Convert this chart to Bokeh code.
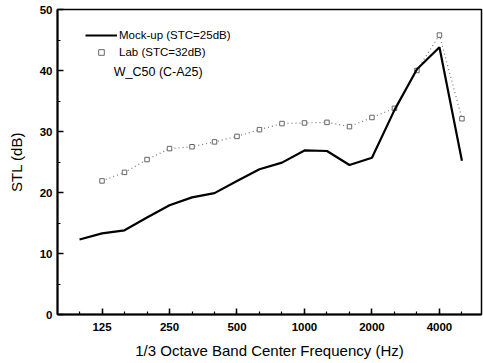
from bokeh.plotting import figure
from bokeh.models import Range1d, FixedTicker, Legend, LegendItem, Label
from bokeh.embed import file_html
from bokeh.resources import INLINE

# 1/3 octave band centre frequencies (Hz)
bands = [100, 125, 160, 200, 250, 315, 400, 500, 630, 800, 1000, 1250,
         1600, 2000, 2500, 3150, 4000, 5000]
tick_labels = ["125", "250", "500", "1000", "2000", "4000"]
mockup = [12.3, 13.3, 13.8, 15.9, 17.9, 19.2, 19.9, 21.9, 23.8, 24.9, 26.9,
          26.8, 24.5, 25.7, 33.5, 40.2, 43.8, 25.2]
lab_bands = [125, 160, 200, 250, 315, 400, 500, 630, 800, 1000, 1250,
             1600, 2000, 2500, 3150, 4000, 5000]
lab = [21.9, 23.3, 25.4, 27.2, 27.5, 28.3, 29.2, 30.3, 31.3, 31.4, 31.5,
       30.8, 32.3, 33.8, 40.0, 45.8, 32.1]

idx = {f: i for i, f in enumerate(bands)}
x_mock = [idx[f] for f in bands]
x_lab = [idx[f] for f in lab_bands]

FONT = "Liberation Sans"

p = figure(width=483, height=363, output_backend="svg", toolbar_location=None,
           x_range=Range1d(-0.98, 17.87), y_range=Range1d(0, 50),
           min_border_left=57, min_border_right=2, min_border_top=9,
           min_border_bottom=49)
p.background_fill_color = "white"
p.border_fill_color = "white"
p.xgrid.visible = False
p.ygrid.visible = False
p.outline_line_color = "black"
p.outline_line_width = 1.5

# x axis
p.xaxis.ticker = FixedTicker(ticks=[idx[int(t)] for t in tick_labels],
                             minor_ticks=list(range(len(bands))))
p.xaxis.major_label_overrides = {idx[int(t)]: t for t in tick_labels}
p.xaxis.axis_label = "1/3 Octave Band Center Frequency (Hz)"
p.yaxis.axis_label = "STL (dB)"
p.yaxis.ticker = FixedTicker(ticks=[0, 10, 20, 30, 40, 50],
                             minor_ticks=[5, 15, 25, 35, 45])
for ax in (p.xaxis[0], p.yaxis[0]):
    ax.axis_line_width = 2
    ax.axis_line_color = "black"
    ax.major_tick_in = 6
    ax.major_tick_out = 0
    ax.minor_tick_in = 3
    ax.minor_tick_out = 0
    ax.major_tick_line_width = 1.5
    ax.minor_tick_line_width = 1.2
    ax.major_label_text_font = FONT
    ax.major_label_text_font_size = "11.5px"
    ax.major_label_text_font_style = "bold"
    ax.major_label_text_color = "black"
    ax.axis_label_text_font = FONT
    ax.axis_label_text_font_size = "15px"
    ax.axis_label_text_font_style = "normal"
    ax.axis_label_text_color = "black"
p.xaxis.major_label_standoff = 8
p.xaxis.axis_label_standoff = 8
p.yaxis.major_label_standoff = 5
p.yaxis.axis_label_standoff = 12

lab_line = p.line(x_lab, lab, line_color="#777777", line_width=1.2,
                  line_dash="1 3")
lab_pts = p.scatter(x_lab, lab, marker="square", size=4.5, fill_color="white",
                    line_color="#666666", line_width=1)
mock_line = p.line(x_mock, mockup, line_color="black", line_width=2.2)

legend = Legend(items=[
    LegendItem(label="Mock-up (STC=25dB)", renderers=[mock_line]),
    LegendItem(label="Lab (STC=32dB)", renderers=[lab_pts]),
], location=(28, 255), orientation="vertical")
legend.background_fill_alpha = 0
legend.border_line_color = None
legend.padding = 0
legend.margin = 0
legend.spacing = 3
legend.glyph_width = 32
legend.glyph_height = 14
legend.label_height = 14
legend.label_standoff = 2
legend.label_text_font = FONT
legend.label_text_font_size = "11.5px"
legend.label_text_color = "black"
legend.label_text_baseline = "middle"
p.add_layout(legend)

note = Label(x=1.52, y=39.7, text="W_C50 (C-A25)", text_font=FONT,
             text_font_size="12.5px", text_baseline="middle",
             text_color="black")
p.add_layout(note)

open("out.html", "w").write(file_html(p, INLINE))
